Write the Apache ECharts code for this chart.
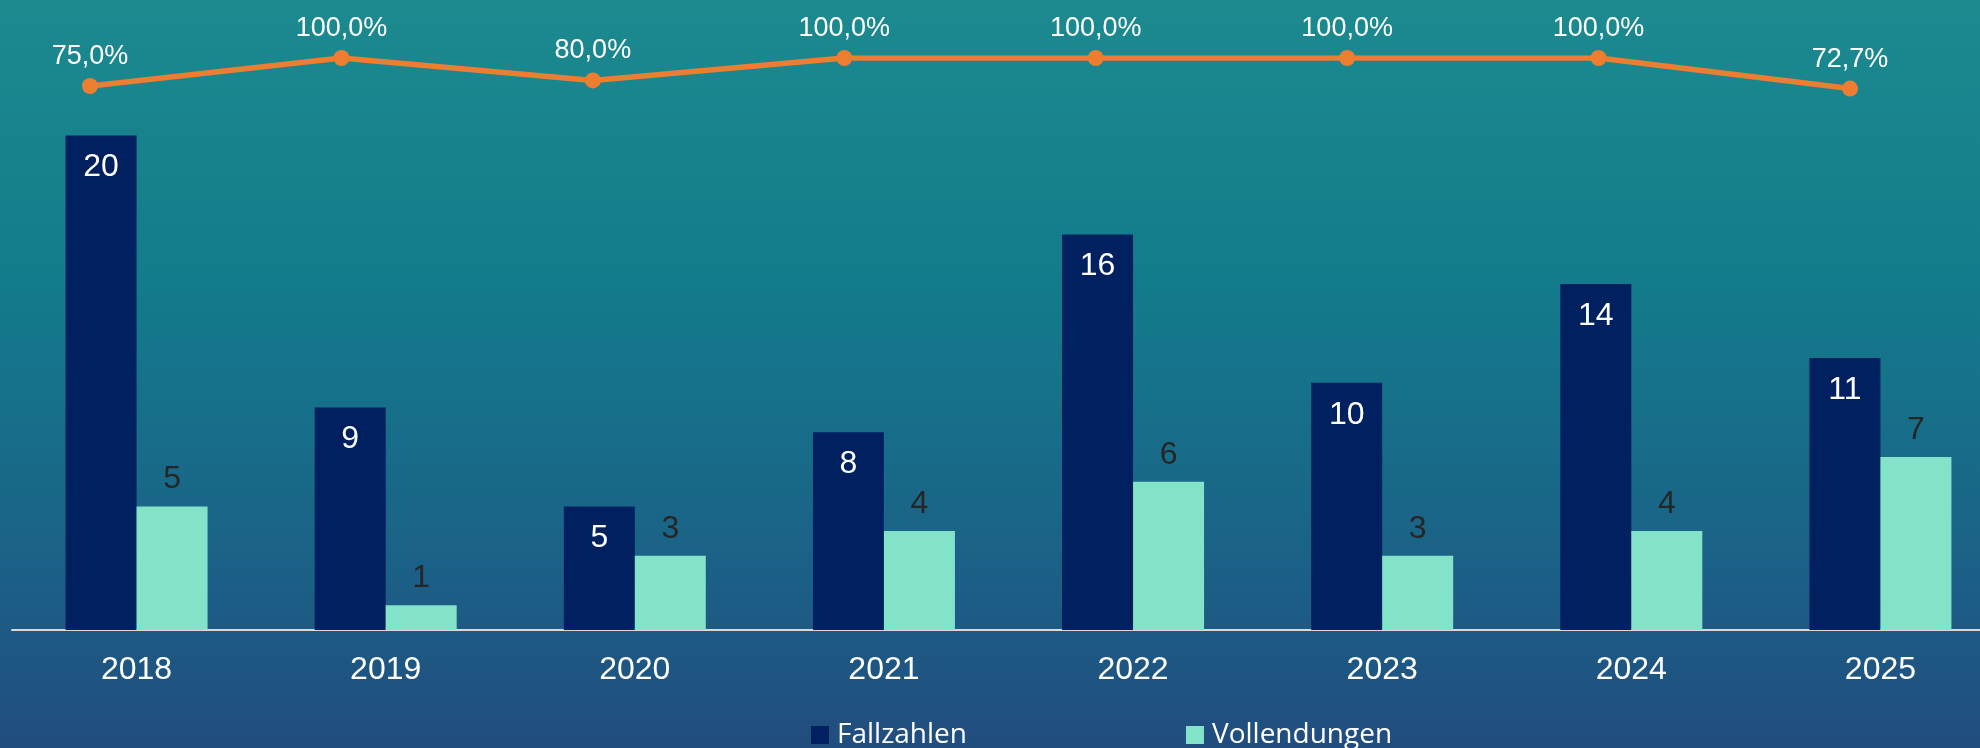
<!DOCTYPE html>
<html>
<head>
<meta charset="utf-8">
<script src="https://cdn.jsdelivr.net/npm/echarts@6/dist/echarts.min.js"></script>
<style>
html,body{margin:0;padding:0;}
#chart{width:1980px;height:748px;}
</style>
</head>
<body>
<div id="chart"></div>
<script>
const years = ['2018','2019','2020','2021','2022','2023','2024','2025'];
const fallzahlen = [20, 9, 5, 8, 16, 10, 14, 11];
const vollendungen = [5, 1, 3, 4, 6, 3, 4, 7];
const quote = [75.0, 100.0, 80.0, 100.0, 100.0, 100.0, 100.0, 72.7];

const chart = echarts.init(document.getElementById('chart'));
const numFont = 'Arial, "Liberation Sans", sans-serif';
chart.setOption({
  animation: false,
  backgroundColor: {
    type: 'linear', x: 0, y: 0, x2: 0, y2: 1,
    colorStops: [
      {offset: 0, color: '#1C8A8F'},
      {offset: 0.4, color: '#137A8B'},
      {offset: 0.75, color: '#1B6187'},
      {offset: 1, color: '#214D7E'}
    ]
  },
  legend: {
    left: 806, top: 716,
    itemWidth: 18, itemHeight: 18, itemGap: 219,
    icon: 'rect',
    data: ['Fallzahlen', 'Vollendungen'],
    textStyle: {color: '#FFFFFF', fontSize: 28, fontFamily: '"Open Sans", sans-serif', padding: [0,0,0,3]}
  },
  grid: [
    {left: 12, width: 1993, top: 12, bottom: 118, outerBoundsMode: 'none', containLabel: false},
    {left: 90, right: 130, top: 58, height: 112, outerBoundsMode: 'none', containLabel: false}
  ],
  xAxis: [
    {
      type: 'category', gridIndex: 0, data: years,
      axisLine: {lineStyle: {color: '#D9D9D9', width: 2}},
      axisTick: {show: false},
      axisLabel: {color: '#FFFFFF', fontSize: 32, fontFamily: numFont, margin: 24}
    },
    {
      type: 'category', gridIndex: 1, data: years, boundaryGap: false, show: false
    }
  ],
  yAxis: [
    {type: 'value', gridIndex: 0, min: 0, max: 25, show: false, splitLine: {show: false}},
    {type: 'value', gridIndex: 1, min: 0, max: 100, show: false, splitLine: {show: false}}
  ],
  series: [
    {
      name: 'Fallzahlen', type: 'bar', xAxisIndex: 0, yAxisIndex: 0,
      data: fallzahlen, barWidth: 71, barGap: '0%',
      itemStyle: {color: '#002060'},
      label: {show: true, position: 'insideTop', distance: 16, color: '#FFFFFF', fontSize: 32, fontFamily: numFont}
    },
    {
      name: 'Vollendungen', type: 'bar', xAxisIndex: 0, yAxisIndex: 0,
      data: vollendungen, barWidth: 71, barGap: '0%',
      itemStyle: {color: '#82E3C8'},
      label: {show: true, position: 'top', distance: 11, color: '#262626', fontSize: 32, fontFamily: numFont}
    },
    {
      name: 'Quote', type: 'line', xAxisIndex: 1, yAxisIndex: 1,
      data: quote, symbol: 'circle', symbolSize: 16,
      lineStyle: {color: '#ED7D31', width: 5.5},
      itemStyle: {color: '#ED7D31'},
      label: {
        show: true, position: 'top', distance: 8, color: '#FFFFFF', fontSize: 27, fontFamily: numFont,
        formatter: p => p.value.toFixed(1).replace('.', ',') + '%'
      }
    }
  ]
});
</script>
</body>
</html>
